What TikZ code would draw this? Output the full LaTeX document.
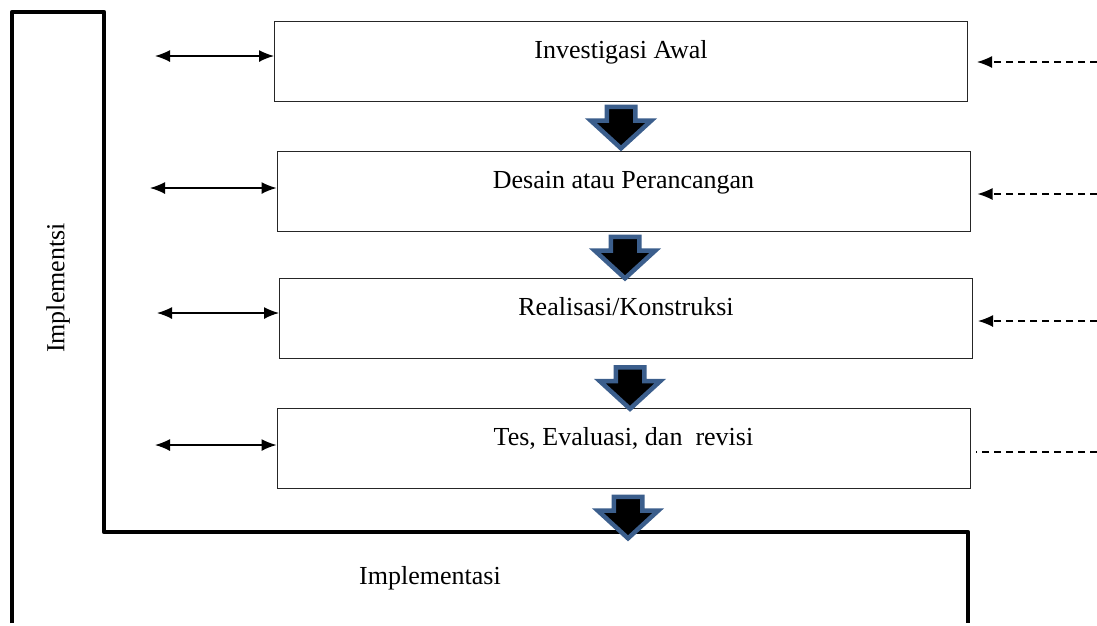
\documentclass[tikz,border=0pt]{standalone}
\usepackage{fontspec}
\setmainfont{Liberation Serif}
\usetikzlibrary{arrows.meta,shapes.arrows}
\definecolor{arrowblue}{RGB}{59,94,140}
\begin{document}
\begin{tikzpicture}[x=1pt,y=-1pt]
		\tikzstyle{box}=[draw=black!85,line width=1pt,minimum width=693pt,inner ysep=0pt,text height=37pt,text depth=43pt,font=\fontsize{26}{30}\selectfont]
		\tikzstyle{flow}=[single arrow,draw=arrowblue,fill=black,line width=4.5pt,shape border rotate=270,inner sep=12pt,single arrow head extend=16pt,single arrow tip angle=95,minimum height=40pt]
		\tikzstyle{link}=[line width=1.4pt,{Latex[length=15pt,width=12pt]}-{Latex[length=15pt,width=12pt]}]
		\tikzstyle{feed}=[line width=1.4pt,dash pattern=on 7pt off 5pt]
		\useasboundingbox (0,0) rectangle (1097,625);
		% frame
		\draw[line width=4.5pt,line join=round] (12,623) -- (12,12) -- (104,12) -- (104,532) -- (968,532) -- (968,623);
		\node[rotate=90,font=\fontsize{26}{30}\selectfont] (side) at (58,288) {Implementsi};
		\node[font=\fontsize{26}{30}\selectfont] (impl) at (430,578) {Implementasi};
		% steps
		\node[box] (awal) at (621,61) {Investigasi Awal};
		\node[box] (desain) at (623.5,191) {Desain atau Perancangan};
		\node[box] (real) at (626,318.5) {Realisasi/Konstruksi};
		\node[box] (tes) at (623.5,448) {Tes, Evaluasi, dan~ revisi};
		\node[flow] (f_1) at (621,121) {};
		\node[flow] (f_2) at (625,251) {};
		\node[flow] (f_3) at (630,381.5) {};
		\node[flow] (f_4) at (628,511) {};
		% side links
		\coordinate (l_1) at (155,56);
		\coordinate (l_2) at (150,188);
		\coordinate (l_3) at (157,313);
		\coordinate (l_4) at (155,445);
		\draw[link] (l_1) -- (l_1 -| awal.west);
		\draw[link] (l_2) -- (l_2 -| desain.west);
		\draw[link] (l_3) -- (l_3 -| real.west);
		\draw[link] (l_4) -- (l_4 -| tes.west);
		\coordinate (r_1) at (1097,62);
		\coordinate (r_2) at (1097,194);
		\coordinate (r_3) at (1097,321);
		\coordinate (r_4) at (1097,452);
		\draw[feed,-{Latex[length=15pt,width=12pt]}] (r_1) -- ([xshift=9pt]r_1 -| awal.east);
		\draw[feed,-{Latex[length=15pt,width=12pt]}] (r_2) -- ([xshift=7pt]r_2 -| desain.east);
		\draw[feed,-{Latex[length=15pt,width=12pt]}] (r_3) -- ([xshift=5pt]r_3 -| real.east);
		\draw[feed] (r_4) -- ([xshift=5pt]r_4 -| tes.east);
	\end{tikzpicture}
\end{document}
